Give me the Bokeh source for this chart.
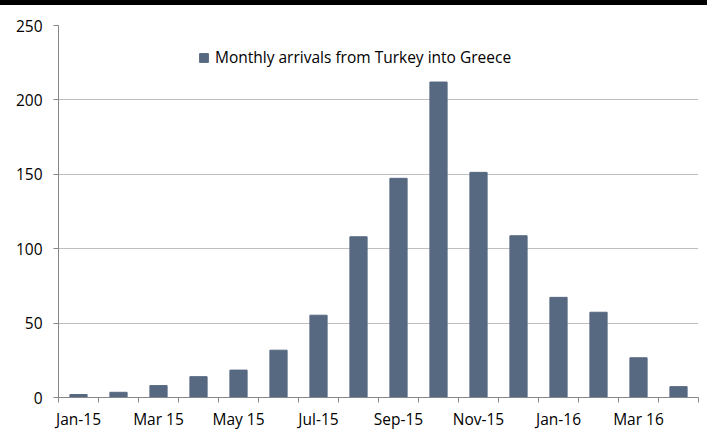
import numpy as np
from bokeh.plotting import figure
from bokeh.models import FixedTicker, Legend, LegendItem, Range1d, ColumnDataSource, Div
from bokeh.layouts import column
from bokeh.embed import file_html
from bokeh.resources import INLINE

months = ["Jan-15", "Feb-15", "Mar-15", "Apr-15", "May-15", "Jun-15", "Jul-15", "Aug-15",
          "Sep-15", "Oct-15", "Nov-15", "Dec-15", "Jan-16", "Feb-16", "Mar-16", "Apr-16"]
arrivals = [2, 3.5, 8, 14, 18.4, 31.8, 55.3, 108, 147.3, 212, 151.3, 108.7, 67.3, 57.3, 26.7, 7.3]
tick_labels = ["Jan-15", "Mar 15", "May 15", "Jul-15", "Sep-15", "Nov-15", "Jan-16", "Mar 16"]
y_ticks = [0, 50, 100, 150, 200, 250]
series_name = "Monthly arrivals from Turkey into Greece"

FONT = "Open Sans"
BAR = "#576881"
FS = "15.5px"

xpos = np.arange(len(months)) + 0.5
src = ColumnDataSource(dict(x=xpos, y=arrivals, m=months))

p = figure(width=707, height=427, output_backend="svg", toolbar_location=None,
           x_range=Range1d(0, len(months)), y_range=Range1d(0, 250),
           min_border_left=58, min_border_right=9, min_border_top=20, min_border_bottom=32,
           margin=0)
p.outline_line_color = None
p.background_fill_color = "white"

r = p.vbar(x="x", top="y", width=0.43, source=src, fill_color=BAR, line_color=BAR)

major = [float(xpos[i]) for i in range(0, len(months), 2)]
p.xaxis.ticker = FixedTicker(ticks=major, minor_ticks=list(range(len(months) + 1)))
p.xaxis.major_label_overrides = {m: lab for m, lab in zip(major, tick_labels)}
p.xaxis.major_tick_out = 0
p.xaxis.major_tick_in = 0
p.xaxis.minor_tick_out = 5
p.xaxis.minor_tick_in = 0
p.xaxis.minor_tick_line_color = "#868686"
p.xaxis.axis_line_color = "#868686"
p.xaxis.major_label_standoff = 5
p.xaxis.major_label_text_font = FONT
p.xaxis.major_label_text_font_size = FS
p.xaxis.major_label_text_color = "black"

p.yaxis.ticker = FixedTicker(ticks=y_ticks, minor_ticks=[])
p.yaxis.major_tick_out = 5
p.yaxis.major_tick_in = 0
p.yaxis.major_tick_line_color = "#868686"
p.yaxis.axis_line_color = "#868686"
p.yaxis.major_label_standoff = 11
p.yaxis.major_label_text_font = FONT
p.yaxis.major_label_text_font_size = FS
p.yaxis.major_label_text_color = "black"

p.xgrid.grid_line_color = None
p.ygrid.grid_line_color = "#BFBFBF"
p.ygrid.grid_line_width = 1.2

legend = Legend(items=[LegendItem(label=series_name, renderers=[r])],
                location=(140, 329), orientation="horizontal",
                glyph_width=11, glyph_height=11, label_standoff=6,
                padding=0, margin=0, spacing=0,
                border_line_color=None, background_fill_alpha=0,
                label_text_font=FONT, label_text_font_size=FS,
                label_text_color="black")
p.add_layout(legend, "center")

# thick black rule across the top of the page
band = Div(text="", width=707, height=5, margin=0, styles={"background-color": "black"})
layout = column(band, p, spacing=0, margin=0)

open("out.html", "w").write(file_html(layout, INLINE))
